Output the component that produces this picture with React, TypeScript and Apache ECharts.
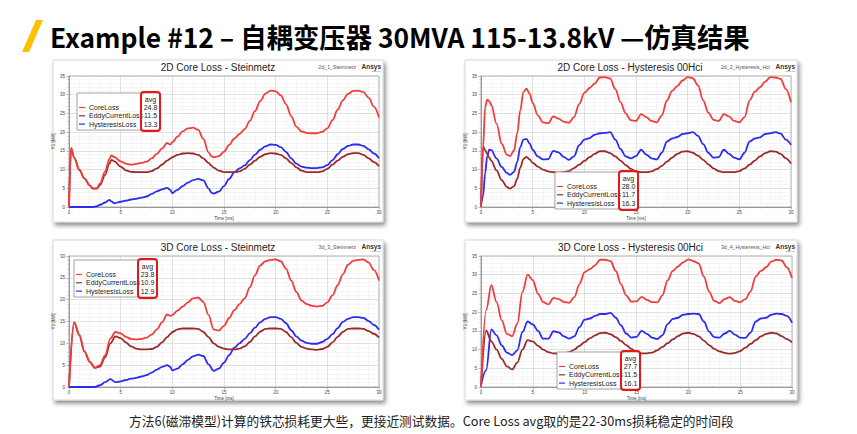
import React, { useEffect, useRef } from 'react';
import * as echarts from 'echarts';

const headerText = 'Example #12 – 自耦变压器 30MVA 115-13.8kV —仿真结果';
const footerText = '方法6(磁滞模型)计算的铁芯损耗更大些，更接近测试数据。Core Loss avg取的是22-30ms损耗稳定的时间段';

const seriesNames = ['CoreLoss', 'EddyCurrentLoss', 'HysteresisLoss'];
const seriesColors = ['#f23c3c', '#9b2a2a', '#2b2bf2'];

const chartTitles = ['2D Core Loss - Steinmetz', '2D Core Loss - Hysteresis 00Hci', '3D Core Loss - Steinmetz', '3D Core Loss - Hysteresis 00Hci'];
const chartTags = ['2d_1_Steinmetz', '2d_2_Hysteresis_Hci', '3d_3_Steinmetz', '3d_4_Hysteresis_Hci'];
const yMaxes = [35, 35, 30, 35];
const xAxisName = 'Time [ms]';
const yAxisName = 'Y1 [kW]';

const avg1 = ['24.8', '11.5', '13.3'];
const avg2 = ['28.0', '11.7', '16.3'];
const avg3 = ['23.8', '10.9', '12.9'];
const avg4 = ['27.7', '11.5', '16.1'];

// ---- Chart 1: 2D Steinmetz ----
const t1 = [0, 0.2, 0.5, 1, 1.5, 2, 2.3, 2.7, 3, 3.5,
  3.9, 4.1, 4.4, 5, 5.5, 6, 6.5, 7, 7.5, 8,
  8.5, 9, 9.5, 9.8, 10, 10.5, 11, 11.5, 12, 12.5,
  13, 13.5, 13.8, 14, 14.5, 15, 15.5, 16, 16.5, 17,
  17.5, 18, 18.5, 19, 19.5, 20, 20.5, 21, 21.5, 22,
  22.5, 23, 23.5, 24, 24.5, 25, 25.5, 26, 26.5, 27,
  27.5, 28, 28.5, 29, 29.5, 30];
const core1 = [0, 15.7, 13.2, 9.9, 7.6, 5.8, 5.0, 5.0, 6.3, 9.5,
  12.8, 13.8, 13.3, 12.2, 11.6, 11.3, 11.5, 11.8, 12.1, 13.0,
  14.2, 15.6, 17.1, 16.7, 17.3, 18.8, 20.2, 21.0, 21.2, 20.6,
  18.2, 14.6, 13.5, 13.3, 13.6, 14.8, 16.6, 18.3, 19.5, 20.8,
  23.0, 25.6, 28.3, 30.3, 31.1, 30.9, 29.8, 27.5, 24.3, 21.5,
  20.2, 19.8, 19.7, 19.7, 20.1, 21.0, 23.2, 26.0, 28.5, 30.2,
  31.0, 31.1, 30.7, 29.2, 26.8, 23.9];
const eddy1 = [0, 15.7, 13.2, 9.9, 7.6, 5.8, 4.9, 4.9, 5.9, 8.6,
  11.5, 12.6, 12.2, 10.8, 9.8, 9.4, 9.3, 9.3, 9.3, 9.6,
  10.3, 11.3, 12.4, 12.9, 13.3, 13.9, 14.3, 14.4, 14.3, 13.9,
  13.0, 11.8, 11.0, 10.5, 9.7, 9.3, 9.3, 9.3, 9.5, 10.2,
  11.3, 12.4, 13.4, 14.1, 14.4, 14.3, 13.9, 13.0, 11.8, 10.6,
  9.7, 9.3, 9.3, 9.3, 9.5, 10.2, 11.3, 12.4, 13.4, 14.1,
  14.4, 14.4, 13.9, 13.0, 12.0, 10.9];
const hyst1 = [0, 0, 0, 0, 0, 0, 0, 0.2, 0.6, 1.2,
  1.9, 1.5, 1.0, 1.4, 1.7, 2.0, 2.2, 2.5, 2.8, 3.5,
  4.2, 4.7, 5.1, 4.6, 3.7, 4.6, 5.6, 6.5, 7.2, 7.5,
  7.1, 5.0, 3.8, 3.6, 4.1, 5.6, 7.5, 9.3, 10.3, 11.1,
  12.5, 14.0, 15.3, 16.2, 16.7, 16.6, 16.0, 14.7, 13.0, 11.6,
  10.8, 10.5, 10.4, 10.4, 10.6, 11.2, 12.5, 14.1, 15.5, 16.3,
  16.7, 16.7, 16.3, 15.4, 14.3, 13.0];

// ---- Chart 2: 2D Hysteresis 00Hci ----
const t2 = [0, 0.2, 0.4, 0.6, 0.8, 1, 1.5, 2, 2.5, 2.8,
  3.2, 3.5, 3.8, 4.1, 4.4, 4.7, 5, 5.5, 6, 6.5,
  7, 7.5, 8, 8.5, 9, 9.5, 10, 10.5, 11, 11.5,
  12, 12.5, 13, 13.5, 14, 14.5, 15, 15.5, 16, 16.5,
  17, 17.5, 18, 18.5, 19, 19.5, 20, 20.5, 21, 21.5,
  22, 22.5, 23, 23.5, 24, 24.5, 25, 25.5, 26, 26.5,
  27, 27.5, 28, 28.5, 29, 29.5, 30];
const core2 = [0, 16.0, 26.7, 28.7, 28.3, 27.2, 22.3, 16.9, 14.0, 13.6,
  15.1, 19.6, 25.8, 30.7, 31.6, 30.3, 27.8, 24.5, 22.6, 22.4,
  24.2, 23.6, 22.8, 22.5, 24.0, 27.5, 30.5, 31.8, 33.0, 34.6,
  34.7, 34.3, 31.5, 28.0, 25.0, 23.2, 23.0, 24.8, 24.0, 23.0,
  22.6, 24.5, 28.5, 31.0, 32.3, 33.8, 34.7, 34.4, 32.5, 28.5,
  25.2, 23.3, 23.0, 24.8, 24.2, 23.0, 22.6, 24.0, 28.5, 30.8,
  32.0, 33.5, 34.7, 34.6, 34.2, 31.5, 28.0];
const eddy2 = [0, 16.2, 15.2, 14.2, 13.2, 12.3, 9.8, 7.2, 5.4, 4.9,
  5.6, 7.5, 10.5, 12.8, 13.4, 12.7, 11.8, 10.8, 10.0, 9.5,
  9.3, 9.2, 9.3, 9.6, 10.4, 11.3, 12.3, 13.3, 14.2, 14.9,
  14.9, 14.4, 13.5, 12.4, 11.2, 10.2, 9.5, 9.3, 9.3, 9.5,
  10.1, 11.0, 12.1, 13.2, 14.2, 14.8, 14.9, 14.5, 13.7, 12.6,
  11.4, 10.3, 9.6, 9.3, 9.3, 9.3, 9.6, 10.3, 11.3, 12.4,
  13.5, 14.4, 14.9, 14.8, 14.2, 13.0, 11.6];
const hyst2 = [0.3, 3.0, 9.0, 13.5, 15.3, 15.2, 13.0, 10.7, 9.1, 8.6,
  9.4, 12.0, 16.0, 18.0, 18.2, 17.0, 15.3, 13.5, 12.7, 12.8,
  15.0, 14.6, 13.4, 12.6, 13.5, 16.5, 18.0, 18.4, 19.3, 19.7,
  19.8, 20.0, 18.0, 15.5, 13.5, 13.0, 13.6, 15.3, 14.0, 13.0,
  12.7, 14.5, 17.5, 18.3, 18.7, 19.5, 19.7, 20.0, 19.0, 16.8,
  14.5, 13.2, 13.3, 15.3, 14.2, 13.2, 12.7, 14.5, 17.5, 18.3,
  18.6, 19.5, 19.7, 20.0, 19.6, 18.0, 16.6];

// ---- Chart 3: 3D Steinmetz ----
const t3 = [0, 0.5, 1, 1.5, 2, 2.5, 3, 3.5, 4, 4.5,
  5, 5.5, 6, 6.5, 7, 7.5, 8, 8.5, 9, 9.5,
  9.8, 10, 10.5, 11, 11.5, 12, 12.5, 13, 13.5, 14,
  14.5, 15, 15.5, 16, 16.5, 17, 17.5, 18, 18.5, 19,
  19.5, 20, 20.5, 21, 21.5, 22, 22.5, 23, 23.5, 24,
  24.5, 25, 25.5, 26, 26.5, 27, 27.5, 28, 28.5, 29,
  29.5, 30];
const core3 = [0, 14.8, 11.9, 8.1, 5.8, 4.4, 5.0, 7.3, 11.1, 12.6,
  12.3, 11.5, 11.0, 10.9, 11.0, 11.3, 12.0, 13.2, 14.8, 16.6,
  16.3, 16.5, 17.5, 18.4, 19.4, 20.3, 20.5, 19.5, 16.5, 13.2,
  12.9, 14.0, 15.8, 17.6, 19.0, 20.3, 22.8, 25.6, 27.8, 28.8,
  29.1, 29.2, 28.8, 27.1, 24.4, 21.8, 19.8, 19.0, 18.6, 18.4,
  18.6, 19.4, 21.0, 23.3, 25.8, 28.0, 28.9, 29.1, 29.2, 28.5,
  26.8, 24.4];
const eddy3 = [0, 14.8, 11.9, 8.1, 5.8, 4.4, 4.7, 6.8, 10.0, 11.6,
  11.2, 10.2, 9.3, 8.8, 8.6, 8.6, 8.7, 9.2, 10.2, 11.4,
  12.1, 12.6, 13.2, 13.4, 13.4, 13.4, 13.3, 12.6, 11.4, 10.0,
  9.2, 8.8, 8.6, 8.6, 8.8, 9.3, 10.3, 11.6, 12.7, 13.3,
  13.4, 13.4, 13.3, 12.6, 11.4, 10.1, 9.2, 8.8, 8.6, 8.5,
  8.7, 9.2, 10.2, 11.5, 12.6, 13.3, 13.4, 13.4, 13.3, 12.8,
  12.2, 11.3];
const hyst3 = [0, 0, 0, 0, 0, 0, 0.4, 1.1, 1.8, 1.1,
  1.3, 1.6, 1.9, 2.1, 2.4, 2.7, 3.3, 4.0, 4.6, 5.0,
  4.6, 3.8, 4.2, 5.2, 6.2, 7.0, 7.4, 7.1, 5.2, 3.7,
  4.2, 5.6, 7.3, 9.0, 10.0, 11.0, 12.3, 13.6, 14.8, 15.6,
  16.0, 16.0, 15.6, 14.6, 13.0, 11.6, 10.6, 10.1, 9.9, 9.9,
  10.3, 11.0, 12.1, 13.5, 14.9, 15.6, 16.0, 16.0, 15.8, 15.1,
  14.2, 13.1];

// ---- Chart 4: 3D Hysteresis 00Hci ----
const t4 = [0, 0.5, 1, 1.5, 2, 2.5, 3, 3.5, 4, 4.5,
  5, 5.5, 6, 6.5, 7, 7.5, 8, 8.5, 9, 9.5,
  10, 10.5, 11, 11.5, 12, 12.5, 13, 13.5, 14, 14.5,
  15, 15.5, 16, 16.5, 17, 17.5, 18, 18.5, 19, 19.5,
  20, 20.5, 21, 21.5, 22, 22.5, 23, 23.5, 24, 24.5,
  25, 25.5, 26, 26.5, 27, 27.5, 28, 28.5, 29, 29.5,
  30];
const core4 = [0, 20.5, 27.2, 22.7, 17.8, 14.2, 13.6, 16.9, 25.4, 30.0,
  28.5, 24.9, 22.7, 22.1, 23.8, 23.5, 22.7, 22.5, 24.0, 27.5,
  30.7, 31.5, 32.5, 34.0, 34.0, 33.6, 31.0, 27.5, 24.5, 22.8,
  22.9, 24.1, 23.3, 22.7, 22.6, 24.5, 28.5, 31.0, 32.2, 33.3,
  34.1, 33.6, 33.0, 29.5, 25.5, 23.0, 22.4, 23.5, 24.0, 23.0,
  22.6, 23.5, 25.5, 29.5, 31.0, 32.0, 33.5, 34.0, 33.8, 32.0,
  29.1];
const eddy4 = [0, 15.1, 12.2, 10.0, 7.5, 5.5, 4.7, 6.5, 10.0, 12.5,
  12.2, 11.0, 10.0, 9.3, 9.0, 8.9, 8.9, 9.3, 10.0, 11.0,
  12.0, 13.0, 13.8, 14.4, 14.5, 14.1, 13.3, 12.3, 11.2, 10.2,
  9.4, 9.0, 9.0, 9.2, 9.8, 10.7, 11.7, 12.7, 13.6, 14.3,
  14.5, 14.2, 13.5, 12.4, 11.2, 10.2, 9.5, 9.1, 8.9, 9.1,
  9.6, 10.5, 11.5, 12.5, 13.5, 14.2, 14.5, 14.3, 13.6, 12.8,
  11.9];
const hyst4 = [0.5, 4.5, 15.4, 13.8, 11.1, 9.2, 8.5, 9.8, 14.7, 17.5,
  16.7, 15.0, 12.9, 12.9, 14.9, 14.6, 13.5, 12.9, 13.5, 16.0,
  18.0, 18.3, 19.0, 19.5, 19.5, 19.8, 18.5, 16.5, 14.3, 13.2,
  13.4, 15.0, 14.2, 13.2, 12.8, 13.8, 16.8, 18.2, 18.5, 19.3,
  19.5, 19.6, 19.5, 17.5, 14.8, 13.3, 13.2, 14.3, 15.0, 14.0,
  13.2, 13.1, 14.5, 17.5, 18.3, 18.5, 19.3, 19.6, 19.5, 19.0,
  17.2];

const panels = [
  { t: t1, vals: [core1, eddy1, hyst1], avg: avg1 },
  { t: t2, vals: [core2, eddy2, hyst2], avg: avg2 },
  { t: t3, vals: [core3, eddy3, hyst3], avg: avg3 },
  { t: t4, vals: [core4, eddy4, hyst4], avg: avg4 },
];

// layout (pixels)
const grids = [
  { left: 69, top: 76, width: 310, height: 131 },
  { left: 481, top: 76, width: 310, height: 131 },
  { left: 69, top: 256, width: 310, height: 131 },
  { left: 481, top: 256, width: 311, height: 131 },
];
const cards = [
  { x: 53, y: 60, w: 330, h: 162 },
  { x: 465, y: 60, w: 332, h: 162 },
  { x: 53, y: 240, w: 330, h: 160 },
  { x: 465, y: 240, w: 332, h: 160 },
];
const legendBoxes = [
  { x: 77, y: 93 },
  { x: 555, y: 172 },
  { x: 74, y: 260 },
  { x: 557, y: 352 },
];

const FONT = 'Liberation Sans, Arial, sans-serif';

function measure(text: string, font: string): number {
  const c = document.createElement('canvas');
  const ctx = c.getContext('2d');
  if (!ctx) return 0;
  ctx.font = font;
  return ctx.measureText(text).width;
}

function txt(x: number, y: number, text: string, o: any = {}) {
  const align = o.align || 'left';
  const valign = o.valign || 'middle';
  return {
    type: 'text', x, y, z: o.z ?? 50, scaleX: o.scaleX ?? 1,
    rotation: o.rotation ?? 0,
    style: {
      text, fill: o.color || '#333', fontSize: o.size || 8, fontWeight: o.weight || 'normal',
      fontFamily: o.family || FONT, textAlign: align, align, textVerticalAlign: valign, verticalAlign: valign,
    },
  };
}

export default function App() {
  const ref = useRef<HTMLDivElement>(null);
  useEffect(() => {
    if (!ref.current) return;
    const chart = echarts.init(ref.current, null, { renderer: 'svg' });

    const g: any[] = [];
    // header
    g.push({ type: 'polygon', z: 10, shape: { points: [[22, 52], [29, 52], [43, 20], [36, 20]] }, style: { fill: '#FFC000' } });
    const hFont = 'bold 27px "Noto Sans CJK SC"';
    const hw = measure(headerText, hFont) || 700;
    g.push(txt(50, 36, headerText, { size: 27, weight: 'bold', family: '"Noto Sans CJK SC"', color: '#000', scaleX: 700 / hw }));
    const fFont = '13px "Noto Sans CJK SC"';
    const fw = measure(footerText, fFont) || 605;
    g.push(txt(129, 420, footerText, { size: 13, family: '"Noto Sans CJK SC"', color: '#222', scaleX: 605 / fw }));

    cards.forEach((c, i) => {
      g.push({
        type: 'rect', z: -10, shape: { x: c.x, y: c.y, width: c.w, height: c.h },
        style: { fill: '#fff', stroke: '#d8d8d8', lineWidth: 1, shadowBlur: 4, shadowOffsetX: 2, shadowOffsetY: 3, shadowColor: 'rgba(0,0,0,0.45)' },
      });
      const gr = grids[i];
      const cx = gr.left + gr.width / 2 - 6;
      g.push(txt(cx, c.y + 7, chartTitles[i], { size: 10, align: 'center', color: '#222' }));
      const r = c.x + c.w - 2;
      g.push(txt(r, c.y + 6, 'Ansys', { size: 6.5, weight: 'bold', align: 'right', color: '#333' }));
      g.push(txt(r, c.y + 11, '2023 R1', { size: 2.5, align: 'right', color: '#777' }));
      g.push(txt(r - 25, c.y + 7, chartTags[i], { size: 5.2, align: 'right', color: '#555' }));

      // legend
      const L = legendBoxes[i];
      const lw = 83, lh = 37;
      g.push({ type: 'rect', z: 60, shape: { x: L.x, y: L.y, width: lw, height: lh }, style: { fill: '#fff', stroke: '#8a8a8a', lineWidth: 0.8 } });
      g.push({ type: 'line', z: 61, shape: { x1: L.x + 64, y1: L.y, x2: L.x + 64, y2: L.y + lh }, style: { stroke: '#aaa', lineWidth: 0.6 } });
      g.push(txt(L.x + 73.5, L.y + 6, 'avg', { size: 7, align: 'center', color: '#222', z: 62 }));
      seriesNames.forEach((nm, k) => {
        const ry = L.y + 14.5 + k * 8.3;
        g.push({ type: 'line', z: 62, shape: { x1: L.x + 2, y1: ry, x2: L.x + 8, y2: ry }, style: { stroke: seriesColors[k], lineWidth: 1.2 } });
        g.push(txt(L.x + 12, ry, nm, { size: 7, color: '#222', z: 62 }));
        g.push(txt(L.x + 73.5, ry, panels[i].avg[k], { size: 7, align: 'center', color: '#222', z: 62 }));
        if (k < 2) {
          g.push({ type: 'line', z: 61, shape: { x1: L.x, y1: ry + 4, x2: L.x + lw, y2: ry + 4 }, style: { stroke: '#e4e4e4', lineWidth: 0.5 } });
        }
      });
      g.push({ type: 'rect', z: 63, shape: { x: L.x + 64, y: L.y - 1, width: 19, height: lh + 2, r: 3 }, style: { fill: 'none', stroke: '#e8161b', lineWidth: 2 } });
    });

    const axisText = { fontSize: 4.5, color: '#444', fontFamily: FONT };
    const xAxes = grids.map((_, i) => ({
      type: 'value', gridIndex: i, min: 0, max: 30, interval: 5,
      name: xAxisName, nameLocation: 'middle', nameGap: 9, nameTextStyle: axisText,
      axisLine: { show: true, lineStyle: { color: '#8a8a8a', width: 0.8 } },
      axisTick: { show: true, length: 2.5, lineStyle: { color: '#8a8a8a', width: 0.6 } },
      minorTick: { show: true, splitNumber: 5, length: 1.5, lineStyle: { color: '#9a9a9a', width: 0.5 } },
      axisLabel: { ...axisText, margin: 3 },
      splitLine: { show: true, lineStyle: { color: '#cdcdcd', width: 0.6 } },
      minorSplitLine: { show: true, lineStyle: { color: '#ececec', width: 0.5 } },
    }));
    const yAxes = grids.map((_, i) => ({
      type: 'value', gridIndex: i, min: 0, max: yMaxes[i], interval: 5,
      name: yAxisName, nameLocation: 'middle', nameGap: 8, nameRotate: 90, nameTextStyle: axisText,
      axisLine: { show: true, lineStyle: { color: '#8a8a8a', width: 0.8 } },
      axisTick: { show: true, length: 2.5, lineStyle: { color: '#8a8a8a', width: 0.6 } },
      minorTick: { show: true, splitNumber: 5, length: 1.5, lineStyle: { color: '#9a9a9a', width: 0.5 } },
      axisLabel: { ...axisText, margin: 4 },
      splitLine: { show: true, lineStyle: { color: '#cdcdcd', width: 0.6 } },
      minorSplitLine: { show: true, lineStyle: { color: '#ececec', width: 0.5 } },
    }));

    const series: any[] = [];
    panels.forEach((p, i) => {
      [2, 1, 0].forEach((k) => {
        series.push({
          type: 'line', name: seriesNames[k], xAxisIndex: i, yAxisIndex: i,
          data: p.t.map((t, j) => [t, p.vals[k][j]]),
          showSymbol: false, smooth: 0.35, smoothMonotone: 'x',
          lineStyle: { color: seriesColors[k], width: 1.8 }, itemStyle: { color: seriesColors[k] },
          z: 3 + (2 - k),
        });
      });
    });

    chart.setOption({
      animation: false,
      backgroundColor: '#ffffff',
      grid: grids.map((gr) => ({ ...gr, containLabel: false, show: true, backgroundColor: '#fff', borderColor: '#9a9a9a', borderWidth: 0.8 })),
      xAxis: xAxes,
      yAxis: yAxes,
      series,
      graphic: { elements: g },
    });
    return () => chart.dispose();
  }, []);
  return <div ref={ref} style={{ position: 'absolute', left: 0, top: 0, width: 857, height: 434 }} />;
}
